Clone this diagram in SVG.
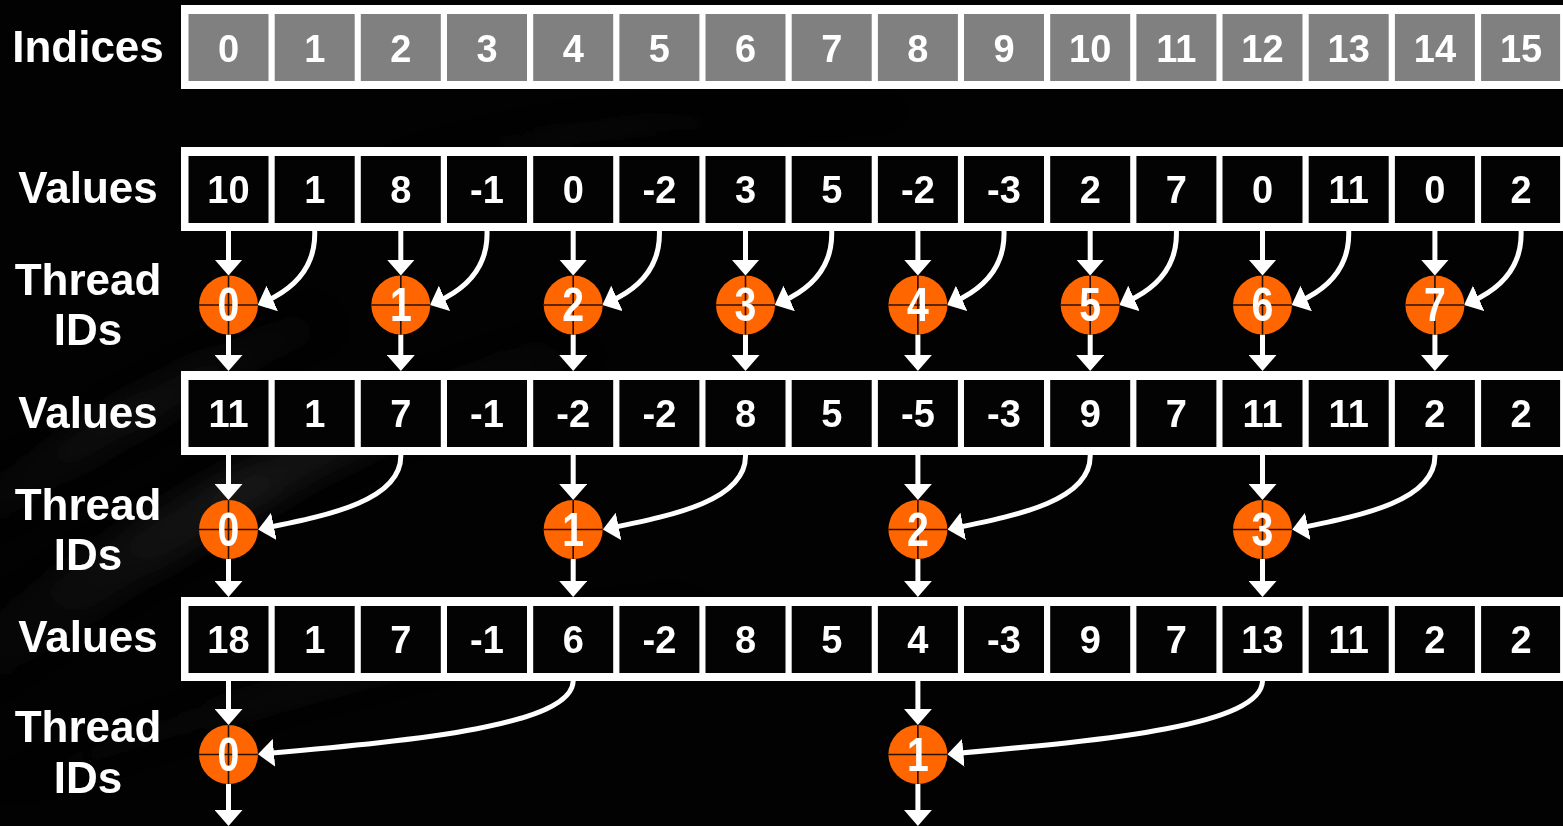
<svg xmlns="http://www.w3.org/2000/svg" width="1563" height="826" viewBox="0 0 1563 826">
<style>
.lbl{font-family:"Liberation Sans",Arial,sans-serif;font-weight:bold;font-size:44px;fill:#fff;text-anchor:middle}
.num{font-family:"Liberation Sans",Arial,sans-serif;font-weight:bold;font-size:38px;fill:#fff;text-anchor:middle}
.tid{font-family:"Liberation Sans",Arial,sans-serif;font-weight:bold;font-size:49px;fill:#fff;text-anchor:middle}
.frame{fill:#fff}
.icell{fill:#808080}
.vcell{fill:#030303}
.node{fill:#FF6600}
.cross{stroke:#2a1000;stroke-width:1.6}
.conn{fill:none;stroke:#fff;stroke-width:5}
</style>
<defs>
<marker id="ah" markerUnits="userSpaceOnUse" viewBox="0 0 16 28" refX="8" refY="14" markerWidth="16" markerHeight="28" orient="auto">
<path d="M0,0 L16,14 L0,28 Z" fill="#fff"/>
</marker>
<linearGradient id="streak" x1="0" y1="1" x2="1" y2="0">
<stop offset="0" stop-color="#3a3a3a" stop-opacity="0"/>
<stop offset="0.5" stop-color="#3a3a3a" stop-opacity="0.35"/>
<stop offset="1" stop-color="#3a3a3a" stop-opacity="0"/>
</linearGradient>
<filter id="blur" x="-20%" y="-20%" width="140%" height="140%"><feGaussianBlur stdDeviation="12"/></filter>
</defs>
<rect x="0" y="0" width="1563" height="826" fill="#020202"/>
<g id="background" filter="url(#blur)">
<path d="M-40,640 C120,520 300,420 560,330 L600,360 C340,450 160,560 -20,700 Z" fill="url(#streak)"/>
<path d="M-40,500 C80,420 180,360 320,300 L340,330 C200,390 90,460 -20,540 Z" fill="url(#streak)" opacity="0.7"/>
<path d="M380,160 C520,120 700,100 900,95 L900,120 C700,125 520,150 390,185 Z" fill="url(#streak)" opacity="0.2"/>
<path d="M0,780 C200,700 420,640 700,590 L700,610 C420,660 200,720 0,800 Z" fill="url(#streak)" opacity="0.6"/>
</g>

<g id="labels">
<text class="lbl" x="88" y="62">Indices</text>
<text class="lbl" x="88" y="203">Values</text>
<text class="lbl" x="88" y="295">Thread</text>
<text class="lbl" x="88" y="345">IDs</text>
<text class="lbl" x="88" y="427.5">Values</text>
<text class="lbl" x="88" y="519.5">Thread</text>
<text class="lbl" x="88" y="569.5">IDs</text>
<text class="lbl" x="88" y="652">Values</text>
<text class="lbl" x="88" y="742">Thread</text>
<text class="lbl" x="88" y="793">IDs</text>
</g>

<g id="indices">
<rect class="frame" x="181" y="5" width="1400" height="84"/>
<rect class="icell" x="188.5" y="14" width="80" height="67"/><text class="num" x="228.5" y="61.5">0</text>
<rect class="icell" x="274.7" y="14" width="80" height="67"/><text class="num" x="314.7" y="61.5">1</text>
<rect class="icell" x="360.8" y="14" width="80" height="67"/><text class="num" x="400.8" y="61.5">2</text>
<rect class="icell" x="447" y="14" width="80" height="67"/><text class="num" x="487" y="61.5">3</text>
<rect class="icell" x="533.2" y="14" width="80" height="67"/><text class="num" x="573.2" y="61.5">4</text>
<rect class="icell" x="619.4" y="14" width="80" height="67"/><text class="num" x="659.4" y="61.5">5</text>
<rect class="icell" x="705.5" y="14" width="80" height="67"/><text class="num" x="745.5" y="61.5">6</text>
<rect class="icell" x="791.7" y="14" width="80" height="67"/><text class="num" x="831.7" y="61.5">7</text>
<rect class="icell" x="877.9" y="14" width="80" height="67"/><text class="num" x="917.9" y="61.5">8</text>
<rect class="icell" x="964" y="14" width="80" height="67"/><text class="num" x="1004" y="61.5">9</text>
<rect class="icell" x="1050.2" y="14" width="80" height="67"/><text class="num" x="1090.2" y="61.5">10</text>
<rect class="icell" x="1136.4" y="14" width="80" height="67"/><text class="num" x="1176.4" y="61.5">11</text>
<rect class="icell" x="1222.5" y="14" width="80" height="67"/><text class="num" x="1262.5" y="61.5">12</text>
<rect class="icell" x="1308.7" y="14" width="80" height="67"/><text class="num" x="1348.7" y="61.5">13</text>
<rect class="icell" x="1394.9" y="14" width="80" height="67"/><text class="num" x="1434.9" y="61.5">14</text>
<rect class="icell" x="1481.1" y="14" width="79" height="67"/><text class="num" x="1521.1" y="61.5">15</text>
</g>

<g id="values1">
<rect class="frame" x="181" y="147" width="1400" height="84"/>
<rect class="vcell" x="188.5" y="156" width="80" height="67"/><text class="num" x="228.5" y="203">10</text>
<rect class="vcell" x="274.7" y="156" width="80" height="67"/><text class="num" x="314.7" y="203">1</text>
<rect class="vcell" x="360.8" y="156" width="80" height="67"/><text class="num" x="400.8" y="203">8</text>
<rect class="vcell" x="447" y="156" width="80" height="67"/><text class="num" x="487" y="203">-1</text>
<rect class="vcell" x="533.2" y="156" width="80" height="67"/><text class="num" x="573.2" y="203">0</text>
<rect class="vcell" x="619.4" y="156" width="80" height="67"/><text class="num" x="659.4" y="203">-2</text>
<rect class="vcell" x="705.5" y="156" width="80" height="67"/><text class="num" x="745.5" y="203">3</text>
<rect class="vcell" x="791.7" y="156" width="80" height="67"/><text class="num" x="831.7" y="203">5</text>
<rect class="vcell" x="877.9" y="156" width="80" height="67"/><text class="num" x="917.9" y="203">-2</text>
<rect class="vcell" x="964" y="156" width="80" height="67"/><text class="num" x="1004" y="203">-3</text>
<rect class="vcell" x="1050.2" y="156" width="80" height="67"/><text class="num" x="1090.2" y="203">2</text>
<rect class="vcell" x="1136.4" y="156" width="80" height="67"/><text class="num" x="1176.4" y="203">7</text>
<rect class="vcell" x="1222.5" y="156" width="80" height="67"/><text class="num" x="1262.5" y="203">0</text>
<rect class="vcell" x="1308.7" y="156" width="80" height="67"/><text class="num" x="1348.7" y="203">11</text>
<rect class="vcell" x="1394.9" y="156" width="80" height="67"/><text class="num" x="1434.9" y="203">0</text>
<rect class="vcell" x="1481.1" y="156" width="79" height="67"/><text class="num" x="1521.1" y="203">2</text>
</g>

<g id="values2">
<rect class="frame" x="181" y="371" width="1400" height="84"/>
<rect class="vcell" x="188.5" y="380" width="80" height="67"/><text class="num" x="228.5" y="427">11</text>
<rect class="vcell" x="274.7" y="380" width="80" height="67"/><text class="num" x="314.7" y="427">1</text>
<rect class="vcell" x="360.8" y="380" width="80" height="67"/><text class="num" x="400.8" y="427">7</text>
<rect class="vcell" x="447" y="380" width="80" height="67"/><text class="num" x="487" y="427">-1</text>
<rect class="vcell" x="533.2" y="380" width="80" height="67"/><text class="num" x="573.2" y="427">-2</text>
<rect class="vcell" x="619.4" y="380" width="80" height="67"/><text class="num" x="659.4" y="427">-2</text>
<rect class="vcell" x="705.5" y="380" width="80" height="67"/><text class="num" x="745.5" y="427">8</text>
<rect class="vcell" x="791.7" y="380" width="80" height="67"/><text class="num" x="831.7" y="427">5</text>
<rect class="vcell" x="877.9" y="380" width="80" height="67"/><text class="num" x="917.9" y="427">-5</text>
<rect class="vcell" x="964" y="380" width="80" height="67"/><text class="num" x="1004" y="427">-3</text>
<rect class="vcell" x="1050.2" y="380" width="80" height="67"/><text class="num" x="1090.2" y="427">9</text>
<rect class="vcell" x="1136.4" y="380" width="80" height="67"/><text class="num" x="1176.4" y="427">7</text>
<rect class="vcell" x="1222.5" y="380" width="80" height="67"/><text class="num" x="1262.5" y="427">11</text>
<rect class="vcell" x="1308.7" y="380" width="80" height="67"/><text class="num" x="1348.7" y="427">11</text>
<rect class="vcell" x="1394.9" y="380" width="80" height="67"/><text class="num" x="1434.9" y="427">2</text>
<rect class="vcell" x="1481.1" y="380" width="79" height="67"/><text class="num" x="1521.1" y="427">2</text>
</g>

<g id="values3">
<rect class="frame" x="181" y="597" width="1400" height="84"/>
<rect class="vcell" x="188.5" y="606" width="80" height="67"/><text class="num" x="228.5" y="652.5">18</text>
<rect class="vcell" x="274.7" y="606" width="80" height="67"/><text class="num" x="314.7" y="652.5">1</text>
<rect class="vcell" x="360.8" y="606" width="80" height="67"/><text class="num" x="400.8" y="652.5">7</text>
<rect class="vcell" x="447" y="606" width="80" height="67"/><text class="num" x="487" y="652.5">-1</text>
<rect class="vcell" x="533.2" y="606" width="80" height="67"/><text class="num" x="573.2" y="652.5">6</text>
<rect class="vcell" x="619.4" y="606" width="80" height="67"/><text class="num" x="659.4" y="652.5">-2</text>
<rect class="vcell" x="705.5" y="606" width="80" height="67"/><text class="num" x="745.5" y="652.5">8</text>
<rect class="vcell" x="791.7" y="606" width="80" height="67"/><text class="num" x="831.7" y="652.5">5</text>
<rect class="vcell" x="877.9" y="606" width="80" height="67"/><text class="num" x="917.9" y="652.5">4</text>
<rect class="vcell" x="964" y="606" width="80" height="67"/><text class="num" x="1004" y="652.5">-3</text>
<rect class="vcell" x="1050.2" y="606" width="80" height="67"/><text class="num" x="1090.2" y="652.5">9</text>
<rect class="vcell" x="1136.4" y="606" width="80" height="67"/><text class="num" x="1176.4" y="652.5">7</text>
<rect class="vcell" x="1222.5" y="606" width="80" height="67"/><text class="num" x="1262.5" y="652.5">13</text>
<rect class="vcell" x="1308.7" y="606" width="80" height="67"/><text class="num" x="1348.7" y="652.5">11</text>
<rect class="vcell" x="1394.9" y="606" width="80" height="67"/><text class="num" x="1434.9" y="652.5">2</text>
<rect class="vcell" x="1481.1" y="606" width="79" height="67"/><text class="num" x="1521.1" y="652.5">2</text>
</g>

<g id="connectors" class="conn" marker-end="url(#ah)">
<path class="conn" marker-end="url(#ah)" d="M228.5,231 V267.5"/>
<path class="conn" marker-end="url(#ah)" d="M400.8,231 V267.5"/>
<path class="conn" marker-end="url(#ah)" d="M573.2,231 V267.5"/>
<path class="conn" marker-end="url(#ah)" d="M745.5,231 V267.5"/>
<path class="conn" marker-end="url(#ah)" d="M917.9,231 V267.5"/>
<path class="conn" marker-end="url(#ah)" d="M1090.2,231 V267.5"/>
<path class="conn" marker-end="url(#ah)" d="M1262.5,231 V267.5"/>
<path class="conn" marker-end="url(#ah)" d="M1434.9,231 V267.5"/>
<path class="conn" marker-end="url(#ah)" d="M314.7,231 C315.7,262 300,286 265,301.7"/>
<path class="conn" marker-end="url(#ah)" d="M487,231 C488,262 472.3,286 437.3,301.7"/>
<path class="conn" marker-end="url(#ah)" d="M659.4,231 C660.4,262 644.7,286 609.7,301.7"/>
<path class="conn" marker-end="url(#ah)" d="M831.7,231 C832.7,262 817,286 782,301.7"/>
<path class="conn" marker-end="url(#ah)" d="M1004,231 C1005,262 989.4,286 954.4,301.7"/>
<path class="conn" marker-end="url(#ah)" d="M1176.4,231 C1177.4,262 1161.7,286 1126.7,301.7"/>
<path class="conn" marker-end="url(#ah)" d="M1348.7,231 C1349.7,262 1334,286 1299,301.7"/>
<path class="conn" marker-end="url(#ah)" d="M1521.1,231 C1522.1,262 1506.4,286 1471.4,301.7"/>
<path class="conn" marker-end="url(#ah)" d="M228.5,334.5 V363"/>
<path class="conn" marker-end="url(#ah)" d="M400.8,334.5 V363"/>
<path class="conn" marker-end="url(#ah)" d="M573.2,334.5 V363"/>
<path class="conn" marker-end="url(#ah)" d="M745.5,334.5 V363"/>
<path class="conn" marker-end="url(#ah)" d="M917.9,334.5 V363"/>
<path class="conn" marker-end="url(#ah)" d="M1090.2,334.5 V363"/>
<path class="conn" marker-end="url(#ah)" d="M1262.5,334.5 V363"/>
<path class="conn" marker-end="url(#ah)" d="M1434.9,334.5 V363"/>
<path class="conn" marker-end="url(#ah)" d="M228.5,455 V492"/>
<path class="conn" marker-end="url(#ah)" d="M573.2,455 V492"/>
<path class="conn" marker-end="url(#ah)" d="M917.9,455 V492"/>
<path class="conn" marker-end="url(#ah)" d="M1262.5,455 V492"/>
<path class="conn" marker-end="url(#ah)" d="M400.8,455 C402,500 330,515 266,528"/>
<path class="conn" marker-end="url(#ah)" d="M745.5,455 C746.7,500 674.7,515 610.7,528"/>
<path class="conn" marker-end="url(#ah)" d="M1090.2,455 C1091.4,500 1019.4,515 955.4,528"/>
<path class="conn" marker-end="url(#ah)" d="M1434.9,455 C1436.1,500 1364,515 1300,528"/>
<path class="conn" marker-end="url(#ah)" d="M228.5,559 V589"/>
<path class="conn" marker-end="url(#ah)" d="M573.2,559 V589"/>
<path class="conn" marker-end="url(#ah)" d="M917.9,559 V589"/>
<path class="conn" marker-end="url(#ah)" d="M1262.5,559 V589"/>
<path class="conn" marker-end="url(#ah)" d="M228.5,681 V717"/>
<path class="conn" marker-end="url(#ah)" d="M917.9,681 V717"/>
<path class="conn" marker-end="url(#ah)" d="M573.2,681 C572,725 420,740 266,753.5"/>
<path class="conn" marker-end="url(#ah)" d="M1262.5,681 C1261.3,725 1109.3,740 955.4,753.5"/>
<path class="conn" marker-end="url(#ah)" d="M228.5,784 V818"/>
<path class="conn" marker-end="url(#ah)" d="M917.9,784 V818"/>
</g>

<g id="t1-0"><circle class="node" cx="228.5" cy="305" r="29.5"/><path class="cross" d="M199,305 H258 M228.5,275.5 V334.5"/><text class="tid" transform="translate(228.5,321) scale(0.8,1)">0</text></g>
<g id="t1-1"><circle class="node" cx="400.8" cy="305" r="29.5"/><path class="cross" d="M371.3,305 H430.3 M400.8,275.5 V334.5"/><text class="tid" transform="translate(400.8,321) scale(0.8,1)">1</text></g>
<g id="t1-2"><circle class="node" cx="573.2" cy="305" r="29.5"/><path class="cross" d="M543.7,305 H602.7 M573.2,275.5 V334.5"/><text class="tid" transform="translate(573.2,321) scale(0.8,1)">2</text></g>
<g id="t1-3"><circle class="node" cx="745.5" cy="305" r="29.5"/><path class="cross" d="M716,305 H775 M745.5,275.5 V334.5"/><text class="tid" transform="translate(745.5,321) scale(0.8,1)">3</text></g>
<g id="t1-4"><circle class="node" cx="917.9" cy="305" r="29.5"/><path class="cross" d="M888.4,305 H947.4 M917.9,275.5 V334.5"/><text class="tid" transform="translate(917.9,321) scale(0.8,1)">4</text></g>
<g id="t1-5"><circle class="node" cx="1090.2" cy="305" r="29.5"/><path class="cross" d="M1060.7,305 H1119.7 M1090.2,275.5 V334.5"/><text class="tid" transform="translate(1090.2,321) scale(0.8,1)">5</text></g>
<g id="t1-6"><circle class="node" cx="1262.5" cy="305" r="29.5"/><path class="cross" d="M1233,305 H1292 M1262.5,275.5 V334.5"/><text class="tid" transform="translate(1262.5,321) scale(0.8,1)">6</text></g>
<g id="t1-7"><circle class="node" cx="1434.9" cy="305" r="29.5"/><path class="cross" d="M1405.4,305 H1464.4 M1434.9,275.5 V334.5"/><text class="tid" transform="translate(1434.9,321) scale(0.8,1)">7</text></g>

<g id="t2-0"><circle class="node" cx="228.5" cy="529.5" r="29.5"/><path class="cross" d="M199,529.5 H258 M228.5,500 V559"/><text class="tid" transform="translate(228.5,545.5) scale(0.8,1)">0</text></g>
<g id="t2-1"><circle class="node" cx="573.2" cy="529.5" r="29.5"/><path class="cross" d="M543.7,529.5 H602.7 M573.2,500 V559"/><text class="tid" transform="translate(573.2,545.5) scale(0.8,1)">1</text></g>
<g id="t2-2"><circle class="node" cx="917.9" cy="529.5" r="29.5"/><path class="cross" d="M888.4,529.5 H947.4 M917.9,500 V559"/><text class="tid" transform="translate(917.9,545.5) scale(0.8,1)">2</text></g>
<g id="t2-3"><circle class="node" cx="1262.5" cy="529.5" r="29.5"/><path class="cross" d="M1233,529.5 H1292 M1262.5,500 V559"/><text class="tid" transform="translate(1262.5,545.5) scale(0.8,1)">3</text></g>

<g id="t3-0"><circle class="node" cx="228.5" cy="754.5" r="29.5"/><path class="cross" d="M199,754.5 H258 M228.5,725 V784"/><text class="tid" transform="translate(228.5,770.5) scale(0.8,1)">0</text></g>
<g id="t3-1"><circle class="node" cx="917.9" cy="754.5" r="29.5"/><path class="cross" d="M888.4,754.5 H947.4 M917.9,725 V784"/><text class="tid" transform="translate(917.9,770.5) scale(0.8,1)">1</text></g>
</svg>
